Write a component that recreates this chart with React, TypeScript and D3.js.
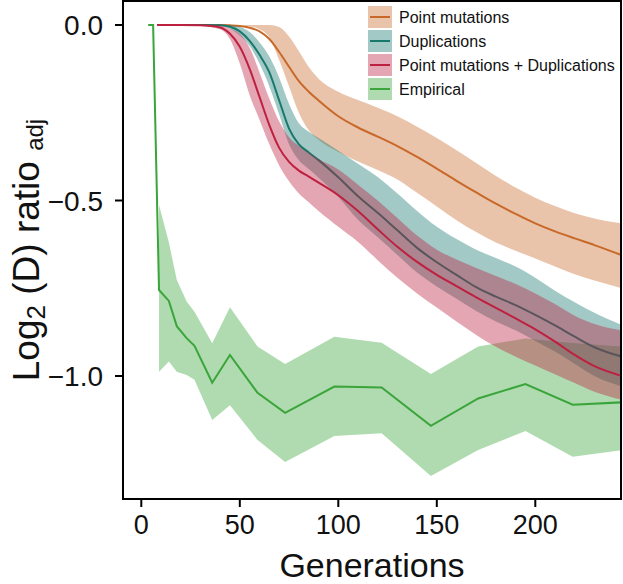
import React from "react";
import * as d3 from "d3";

// ---------- data ----------
const GENS = [8, 20, 30, 40, 45, 50, 55, 60, 65, 70, 75, 80, 85, 90, 100, 110, 120, 130, 140, 150, 160, 170, 180, 190, 200, 210, 220, 230, 244];

const PM_MEAN = [0, 0, 0, 0, -0.001, -0.003, -0.008, -0.018, -0.04, -0.077, -0.119, -0.16, -0.19, -0.215, -0.26, -0.292, -0.318, -0.345, -0.376, -0.409, -0.444, -0.477, -0.509, -0.538, -0.565, -0.588, -0.608, -0.627, -0.656];
const PM_UP = [0, 0, 0, 0, 0, 0, 0, 0, 0, -0.006, -0.033, -0.075, -0.12, -0.153, -0.19, -0.214, -0.236, -0.26, -0.29, -0.322, -0.357, -0.393, -0.43, -0.463, -0.492, -0.516, -0.536, -0.551, -0.565];
const PM_LO = [0, 0, 0, 0, 0, 0, -0.004, -0.012, -0.035, -0.1, -0.175, -0.25, -0.3, -0.327, -0.362, -0.389, -0.413, -0.44, -0.478, -0.517, -0.556, -0.59, -0.62, -0.643, -0.665, -0.688, -0.71, -0.728, -0.75];

const DUP_MEAN = [0, 0, 0, -0.001, -0.005, -0.018, -0.045, -0.085, -0.135, -0.215, -0.295, -0.34, -0.363, -0.385, -0.434, -0.488, -0.535, -0.585, -0.635, -0.676, -0.712, -0.747, -0.774, -0.798, -0.826, -0.856, -0.888, -0.918, -0.945];
const DUP_UP = [0, 0, 0, 0, -0.001, -0.006, -0.02, -0.05, -0.09, -0.15, -0.225, -0.28, -0.304, -0.322, -0.358, -0.395, -0.433, -0.48, -0.53, -0.575, -0.61, -0.64, -0.664, -0.688, -0.72, -0.757, -0.79, -0.82, -0.855];
const DUP_LO = [0, 0, 0, -0.002, -0.01, -0.03, -0.06, -0.11, -0.175, -0.255, -0.34, -0.385, -0.41, -0.435, -0.49, -0.555, -0.605, -0.655, -0.705, -0.745, -0.78, -0.815, -0.845, -0.87, -0.9, -0.93, -0.965, -1.0, -1.03];

const PMD_MEAN = [0, 0, -0.001, -0.007, -0.025, -0.062, -0.125, -0.205, -0.285, -0.35, -0.39, -0.415, -0.432, -0.449, -0.485, -0.53, -0.582, -0.632, -0.675, -0.712, -0.744, -0.776, -0.806, -0.836, -0.867, -0.902, -0.94, -0.972, -1.0];
const PMD_UP = [0, 0, 0, -0.002, -0.01, -0.025, -0.065, -0.135, -0.21, -0.275, -0.32, -0.345, -0.365, -0.382, -0.412, -0.455, -0.5, -0.55, -0.6, -0.64, -0.668, -0.692, -0.715, -0.738, -0.765, -0.795, -0.828, -0.852, -0.87];
const PMD_LO = [0, 0, -0.003, -0.012, -0.04, -0.11, -0.2, -0.27, -0.34, -0.4, -0.445, -0.48, -0.505, -0.53, -0.575, -0.618, -0.67, -0.72, -0.765, -0.805, -0.845, -0.883, -0.917, -0.945, -0.97, -0.995, -1.02, -1.045, -1.068];

const EMP_GENS = [3.5, 6, 9, 14, 18, 23, 27, 36, 45, 59, 73, 98, 122, 147, 171, 195, 219, 244];
const EMP_MEAN = [0, 0, -0.755, -0.786, -0.858, -0.892, -0.914, -1.019, -0.94, -1.048, -1.105, -1.03, -1.033, -1.142, -1.064, -1.023, -1.082, -1.075];
const EMP_UP = [null, null, -0.513, -0.62, -0.726, -0.788, -0.817, -0.907, -0.804, -0.916, -0.966, -0.888, -0.905, -0.994, -0.916, -0.893, -0.906, -0.916];
const EMP_LO = [null, null, -0.988, -0.959, -0.988, -0.997, -1.011, -1.125, -1.083, -1.182, -1.245, -1.171, -1.163, -1.285, -1.211, -1.157, -1.23, -1.211];

const X_TICKS = [0, 50, 100, 150, 200];
const Y_TICKS = [0, -0.5, -1.0];
const Y_TICK_LABELS = ["0.0", "\u22120.5", "\u22121.0"];
const LEGEND_LABELS = ["Point mutations", "Duplications", "Point mutations + Duplications", "Empirical"];

// ---------- styles ----------
const FONT = "'Liberation Sans', Arial, Helvetica, sans-serif";
const COL = {
  pm: "#c8692a",
  dup: "#17786d",
  pmd: "#be2040",
  emp: "#3aa53a",
};
const BAND_OPACITY = 0.4;

export default function App() {
  const W = 623;
  const H = 584;
  const left = 123, right = 621, top = 1, bottom = 499;

  const x = d3.scaleLinear().domain([0, 200]).range([141.3, 535.3]);
  const y = d3.scaleLinear().domain([0, -1]).range([25, 376]);

  const mk = (gens: number[], mean: number[], up: number[], lo: number[]) =>
    gens.map((g, i) => ({ g, m: mean[i], u: up[i], l: lo[i] }));

  const pm = mk(GENS, PM_MEAN, PM_UP, PM_LO);
  const dup = mk(GENS, DUP_MEAN, DUP_UP, DUP_LO);
  const pmd = mk(GENS, PMD_MEAN, PMD_UP, PMD_LO);
  const emp = EMP_GENS.map((g, i) => ({ g, m: EMP_MEAN[i], u: EMP_UP[i], l: EMP_LO[i] }));

  const smoothArea = d3
    .area<any>()
    .x((d) => x(d.g))
    .y0((d) => y(d.l))
    .y1((d) => y(d.u))
    .curve(d3.curveMonotoneX);
  const smoothLine = d3
    .line<any>()
    .x((d) => x(d.g))
    .y((d) => y(d.m))
    .curve(d3.curveMonotoneX);
  const linArea = d3
    .area<any>()
    .defined((d) => d.u !== null && d.l !== null)
    .x((d) => x(d.g))
    .y0((d) => y(d.l))
    .y1((d) => y(d.u));
  const linLine = d3
    .line<any>()
    .x((d) => x(d.g))
    .y((d) => y(d.m));

  const legendColors = [COL.pm, COL.dup, COL.pmd, COL.emp];

  return (
    <svg
      width={W}
      height={H}
      style={{ position: "absolute", left: 0, top: 0, background: "#fff" }}
      fontFamily={FONT}
    >
      <defs>
        <clipPath id="plotClip">
          <rect x={left} y={top} width={right - left} height={bottom - top} />
        </clipPath>
      </defs>
      <rect x={0} y={0} width={W} height={H} fill="#fff" />

      <g clipPath="url(#plotClip)">
        {/* Empirical */}
        <path d={linArea(emp) || ""} fill={COL.emp} fillOpacity={BAND_OPACITY} />
        <path d={linLine(emp) || ""} fill="none" stroke={COL.emp} strokeWidth={2} />
        {/* Point mutations */}
        <path d={smoothArea(pm) || ""} fill={COL.pm} fillOpacity={BAND_OPACITY} />
        <path d={smoothLine(pm) || ""} fill="none" stroke={COL.pm} strokeWidth={2} />
        {/* Duplications */}
        <path d={smoothArea(dup) || ""} fill={COL.dup} fillOpacity={BAND_OPACITY} />
        <path d={smoothLine(dup) || ""} fill="none" stroke={COL.dup} strokeWidth={2} />
        {/* Point mutations + Duplications */}
        <path d={smoothArea(pmd) || ""} fill={COL.pmd} fillOpacity={BAND_OPACITY} />
        <path d={smoothLine(pmd) || ""} fill="none" stroke={COL.pmd} strokeWidth={2} />
      </g>

      {/* legend */}
      {LEGEND_LABELS.map((lab, i) => {
        const ty = 6 + i * 24;
        return (
          <g key={lab}>
            <rect x={368} y={ty} width={24} height={22} fill={legendColors[i]} fillOpacity={BAND_OPACITY} />
            <line x1={370} x2={390} y1={ty + 11} y2={ty + 11} stroke={legendColors[i]} strokeWidth={2} />
            <text x={399} y={ty + 16.5} fontSize={16} fill="#111">
              {lab}
            </text>
          </g>
        );
      })}

      {/* frame */}
      <rect x={left} y={top} width={right - left} height={bottom - top} fill="none" stroke="#000" strokeWidth={2} />

      {/* x axis */}
      {X_TICKS.map((t) => (
        <g key={"x" + t}>
          <line x1={x(t)} x2={x(t)} y1={bottom} y2={bottom + 8} stroke="#000" strokeWidth={2} />
          <text x={x(t)} y={534} fontSize={27} textAnchor="middle" fill="#111">
            {t}
          </text>
        </g>
      ))}
      {/* y axis */}
      {Y_TICKS.map((t, i) => (
        <g key={"y" + t}>
          <line x1={left - 8} x2={left} y1={y(t)} y2={y(t)} stroke="#000" strokeWidth={2} />
          <text x={103} y={y(t) + 10} fontSize={28} textAnchor="end" fill="#111">
            {Y_TICK_LABELS[i]}
          </text>
        </g>
      ))}

      {/* axis titles */}
      <text x={372} y={577} fontSize={34} textAnchor="middle" fill="#111">
        Generations
      </text>
      <text transform="translate(38.5,250) rotate(-90)" fontSize={37} textAnchor="middle" fill="#111">
        Log
        <tspan fontSize={26} dy={6}>2</tspan>
        <tspan dy={-6}> (D) ratio </tspan>
        <tspan fontSize={24} dy={4}>adj</tspan>
      </text>
    </svg>
  );
}
